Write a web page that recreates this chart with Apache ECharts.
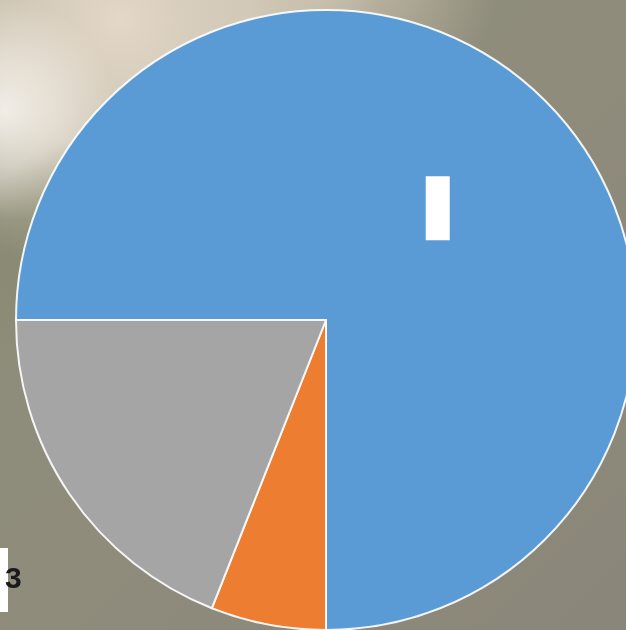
<!DOCTYPE html>
<html>
<head>
<meta charset="utf-8">
<script src="https://cdn.jsdelivr.net/npm/echarts@6/dist/echarts.min.js"></script>
<style>
  html, body { margin: 0; padding: 0; background: #8e8c7c; }
  #chart { width: 626px; height: 630px; }
</style>
</head>
<body>
<div id="chart"></div>
<script>
// Data
var categories = ['1', '2', '3'];
var values = [75, 6, 19];
var colors = ['#5b9bd5', '#ed7d31', '#a5a5a5'];
var sideLabel = '3';

var chart = echarts.init(document.getElementById('chart'), null, { renderer: 'canvas' });

var seriesData = categories.map(function (c, i) {
  return {
    name: c,
    value: values[i],
    itemStyle: { color: colors[i] },
    label: i === 0 ? { show: true } : { show: false }
  };
});

function glow(cx, cy, r, rgb, a0, a1) {
  return {
    type: 'circle', silent: true, z: -8,
    shape: { cx: cx, cy: cy, r: r },
    style: {
      fill: {
        type: 'radial', x: 0.5, y: 0.5, r: 0.5,
        colorStops: [
          { offset: 0, color: 'rgba(' + rgb + ',' + a0 + ')' },
          { offset: 0.5, color: 'rgba(' + rgb + ',' + a1 + ')' },
          { offset: 1, color: 'rgba(' + rgb + ',0)' }
        ]
      }
    }
  };
}

var option = {
  backgroundColor: '#8e8c7c',
  animation: false,
  graphic: [
    {
      type: 'rect', silent: true, z: -10,
      shape: { x: 0, y: 0, width: 626, height: 630 },
      style: {
        fill: {
          type: 'linear', x: 0, y: 0, x2: 1, y2: 1,
          colorStops: [
            { offset: 0, color: '#8c8c76' },
            { offset: 0.5, color: '#8f8c7c' },
            { offset: 1, color: '#8a877a' }
          ]
        }
      }
    },
    glow(120, 20, 260, '232,220,204', 0.95, 0.7),
    glow(330, -30, 170, '220,208,190', 0.7, 0.4),
    glow(5, 110, 110, '246,242,236', 0.9, 0.5),
    glow(90, 260, 120, '125,135,98', 0.55, 0.3),
    {
      type: 'rect', silent: true, z: 10,
      shape: { x: 0, y: 548, width: 8, height: 64 },
      style: { fill: '#ffffff' }
    },
    {
      type: 'text', silent: true, z: 10,
      left: 5, top: 565,
      style: {
        text: sideLabel,
        fill: '#1a1a1a',
        font: 'bold 30px "Liberation Sans", Arial, sans-serif'
      }
    }
  ],
  series: [
    {
      type: 'pie',
      center: [326, 320],
      radius: [0, 310],
      startAngle: 180,
      clockwise: true,
      avoidLabelOverlap: false,
      itemStyle: { borderColor: 'rgba(255,255,255,0.9)', borderWidth: 2 },
      label: {
        position: 'inside',
        formatter: '{box|}',
        rich: {
          box: { width: 24, height: 64, backgroundColor: '#ffffff' }
        }
      },
      labelLine: { show: false },
      emphasis: { disabled: true },
      data: seriesData
    }
  ]
};

chart.setOption(option);
</script>
</body>
</html>
